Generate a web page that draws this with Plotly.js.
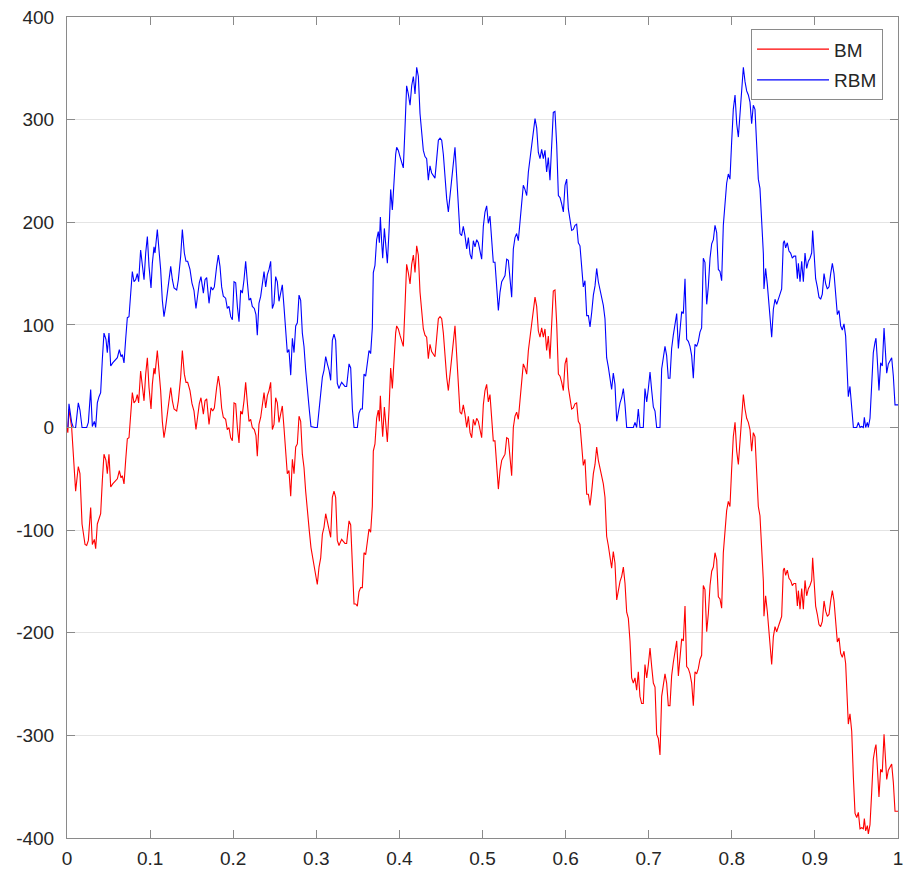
<!DOCTYPE html>
<html>
<head>
<meta charset="utf-8">
<script src="https://cdn.plot.ly/plotly-3.0.1.min.js"></script>
<style>html,body{margin:0;padding:0;background:#fff;}#chart{width:903px;height:874px;}</style>
</head>
<body>
<div id="chart"></div>
<script>
// time grid
const t = [
0,0.001,0.0024,0.0056,0.0076,0.0104,0.0136,0.0156,0.0181,0.0217,
0.0237,0.0257,0.0285,0.0305,0.0329,0.0345,0.0365,0.0385,0.0405,0.0425,
0.0445,0.0469,0.0485,0.0505,0.0526,0.0550,0.0578,0.0606,0.0630,0.0650,
0.0666,0.0686,0.0706,0.0726,0.0746,0.0770,0.0786,0.0806,0.0826,0.0846,
0.0862,0.0886,0.0907,0.0927,0.0947,0.0967,0.0987,0.1011,0.1027,0.1047,
0.1059,0.1071,0.1087,0.1107,0.1127,0.1147,0.1167,0.1187,0.1207,0.1231,
0.1248,0.1268,0.1288,0.1320,0.1340,0.1368,0.1388,0.1412,0.1432,0.1452,
0.1480,0.1504,0.1528,0.1552,0.1572,0.1592,0.1612,0.1641,0.1661,0.1681,
0.1709,0.1733,0.1753,0.1773,0.1801,0.1821,0.1841,0.1861,0.1881,0.1909,
0.1929,0.1949,0.1970,0.1990,0.2010,0.2030,0.2050,0.2070,0.2090,0.2110,
0.2130,0.2150,0.2170,0.2190,0.2210,0.2230,0.2254,0.2274,0.2290,0.2310,
0.2331,0.2351,0.2371,0.2391,0.2411,0.2431,0.2451,0.2471,0.2491,0.2511,
0.2531,0.2551,0.2571,0.2591,0.2611,0.2631,0.2651,0.2671,0.2692,0.2712,
0.2732,0.2752,0.2772,0.2792,0.2812,0.2832,0.2852,0.2872,0.2892,0.2916,
0.2936,0.2964,0.2984,0.3012,0.3033,0.3053,0.3073,0.3093,0.3113,0.3133,
0.3153,0.3173,0.3193,0.3213,0.3233,0.3253,0.3273,0.3293,0.3305,0.3325,
0.3345,0.3365,0.3394,0.3414,0.3434,0.3454,0.3474,0.3494,0.3514,0.3534,
0.3554,0.3574,0.3594,0.3614,0.3634,0.3654,0.3674,0.3686,0.3706,0.3726,
0.3746,0.3759,0.3771,0.3787,0.3799,0.3819,0.3835,0.3855,0.3875,0.3895,
0.3915,0.3935,0.3955,0.3967,0.3987,0.4007,0.4027,0.4047,0.4067,0.4087,
0.4107,0.4128,0.4148,0.4168,0.4188,0.4208,0.4228,0.4248,0.4268,0.4288,
0.4308,0.4328,0.4348,0.4368,0.4388,0.4408,0.4428,0.4449,0.4469,0.4489,
0.4509,0.4529,0.4549,0.4569,0.4589,0.4609,0.4629,0.4649,0.4669,0.4689,
0.4709,0.4729,0.4749,0.4769,0.4789,0.4810,0.4830,0.4850,0.4870,0.4890,
0.4910,0.4930,0.4950,0.4970,0.4990,0.5010,0.5030,0.5050,0.5070,0.5090,
0.5110,0.5130,0.5150,0.5171,0.5191,0.5211,0.5231,0.5251,0.5271,0.5291,
0.5311,0.5331,0.5351,0.5371,0.5391,0.5411,0.5431,0.5451,0.5471,0.5491,
0.5511,0.5532,0.5552,0.5572,0.5592,0.5612,0.5632,0.5652,0.5672,0.5692,
0.5712,0.5732,0.5752,0.5772,0.5792,0.5812,0.5832,0.5852,0.5872,0.5893,
0.5913,0.5933,0.5953,0.5973,0.5993,0.6013,0.6033,0.6053,0.6073,0.6093,
0.6113,0.6133,0.6153,0.6173,0.6193,0.6213,0.6233,0.6254,0.6274,0.6294,
0.6314,0.6334,0.6354,0.6374,0.6394,0.6414,0.6434,0.6454,0.6474,0.6494,
0.6514,0.6534,0.6554,0.6574,0.6594,0.6615,0.6635,0.6655,0.6675,0.6695,
0.6715,0.6735,0.6755,0.6775,0.6795,0.6815,0.6835,0.6855,0.6875,0.6895,
0.6915,0.6935,0.6955,0.6976,0.6996,0.7016,0.7036,0.7056,0.7076,0.7096,
0.7116,0.7136,0.7156,0.7176,0.7196,0.7216,0.7236,0.7256,0.7276,0.7296,
0.7316,0.7337,0.7357,0.7377,0.7397,0.7417,0.7437,0.7457,0.7477,0.7497,
0.7517,0.7537,0.7557,0.7577,0.7597,0.7617,0.7637,0.7657,0.7677,0.7698,
0.7718,0.7738,0.7758,0.7778,0.7798,0.7818,0.7838,0.7858,0.7878,0.7898,
0.7918,0.7938,0.7958,0.7978,0.7998,0.8018,0.8039,0.8059,0.8079,0.8099,
0.8119,0.8139,0.8159,0.8179,0.8199,0.8219,0.8239,0.8259,0.8279,0.8299,
0.8319,0.8339,0.8359,0.8380,0.8387,0.8407,0.8428,0.8448,0.8468,0.8480,
0.8500,0.8520,0.8540,0.8560,0.8580,0.8600,0.8620,0.8632,0.8648,0.8668,
0.8688,0.8708,0.8728,0.8748,0.8769,0.8789,0.8801,0.8821,0.8841,0.8861,
0.8881,0.8901,0.8921,0.8941,0.8961,0.8973,0.8989,0.9009,0.9029,0.9049,
0.9069,0.9089,0.9110,0.9130,0.9150,0.9170,0.9190,0.9210,0.9230,0.9250,
0.9270,0.9290,0.9310,0.9330,0.9350,0.9370,0.9382,0.9402,0.9422,0.9443,
0.9463,0.9483,0.9503,0.9523,0.9543,0.9563,0.9583,0.9595,0.9611,0.9631,
0.9643,0.9663,0.9683,0.9703,0.9723,0.9735,0.9751,0.9771,0.9791,0.9811,
0.9832,0.9852,0.9864,0.9884,0.9904,0.9924,0.9944,0.9964,0.9984,1
];

// Brownian motion (red)
const bm = [
0,-5,18,0,-26,-62,-38,-45,-94,-114,
-115,-110,-78,-114,-109,-118,-94,-88,-84,-52,
-26,-32,-45,-26,-58,-55,-52,-50,-42,-49,
-47,-55,-32,-11,-10,13,34,24,26,32,
24,55,39,26,52,68,39,18,42,58,
52,65,75,55,36,6,-10,0,13,23,
39,26,18,16,26,49,75,52,44,44,
36,23,16,-2,13,23,29,13,26,28,
3,19,16,19,39,50,39,19,10,8,
-2,0,-10,-13,24,23,0,-15,16,13,
26,44,24,6,8,0,-2,-8,-28,3,
10,24,34,19,31,36,44,-2,3,29,
24,5,13,21,0,-19,-45,-42,-67,-31,
-45,-19,-16,11,6,-26,-39,-62,-84,-101,
-117,-130,-136,-153,-136,-127,-104,-97,-84,-91,
-97,-107,-68,-62,-68,-110,-115,-111,-109,-111,
-113,-113,-91,-95,-135,-172,-172,-174,-160,-156,
-156,-122,-124,-109,-99,-102,-77,-23,-16,9,
17,6,31,6,-9,20,2,-14,17,58,
38,67,92,99,96,90,85,79,117,159,
151,140,159,168,151,177,168,132,114,96,
90,88,67,81,74,71,69,88,106,108,
106,92,67,49,36,52,67,88,99,71,
38,15,13,22,13,0,11,-5,-10,8,
2,9,6,-1,-10,22,36,42,25,32,
10,-13,-13,-36,-60,-42,-32,-29,-26,-10,
-11,-29,-47,0,11,15,8,26,42,62,
58,52,75,88,101,114,127,118,94,88,
97,88,96,75,89,67,94,133,134,101,
52,50,44,36,62,68,39,26,18,19,
23,24,6,3,-16,-37,-31,-65,-65,-76,
-62,-45,-36,-19,-32,-39,-49,-55,-68,-106,
-115,-125,-137,-121,-132,-168,-158,-150,-145,-136,
-152,-180,-186,-208,-244,-249,-244,-256,-238,-262,
-269,-269,-231,-244,-231,-215,-233,-249,-253,-299,
-303,-319,-262,-249,-240,-249,-271,-271,-242,-229,
-219,-208,-242,-226,-206,-208,-174,-233,-235,-240,
-249,-271,-238,-240,-235,-226,-222,-154,-158,-199,
-181,-154,-140,-136,-122,-129,-165,-167,-176,-122,
-100,-81,-72,-77,-41,-9,5,-23,-36,-14,
9,32,18,9,5,-2,-23,-5,-9,-50,
-77,-86,-124,-150,-184,-164,-180,-203,-219,-231,
-204,-194,-199,-193,-189,-184,-139,-137,-144,-139,
-147,-149,-154,-152,-152,-174,-159,-177,-157,-177,
-149,-164,-157,-154,-149,-127,-149,-174,-182,-192,
-194,-189,-169,-179,-184,-182,-169,-159,-169,-194,
-209,-205,-220,-224,-218,-230,-258,-289,-279,-296,
-341,-376,-380,-375,-391,-390,-391,-381,-393,-388,
-396,-387,-356,-323,-313,-309,-330,-360,-333,-336,
-299,-330,-343,-334,-331,-328,-346,-374,-374,-374
];

// Reflected Brownian motion (blue)
const rbm = [
0,0,23,5,0,0,24,17,0,0,
0,5,37,1,6,0,24,30,34,66,
92,86,73,92,60,63,66,68,76,69,
71,63,86,107,108,131,152,142,144,150,
142,173,157,144,170,186,157,136,160,176,
170,183,193,173,154,124,108,118,131,141,
157,144,136,134,144,167,193,170,162,162,
154,141,134,116,131,141,147,131,144,146,
121,137,134,137,157,168,157,137,128,126,
116,118,108,105,142,141,118,103,134,131,
144,162,142,124,126,118,116,110,90,121,
128,142,152,137,149,154,162,116,121,147,
142,123,131,139,118,99,73,76,51,87,
73,99,102,129,124,92,79,56,34,17,
1,0,0,0,17,26,49,56,69,62,
56,46,85,91,85,43,38,42,44,42,
40,40,62,58,18,0,0,0,14,18,
18,52,50,65,75,72,97,151,158,183,
191,180,205,180,165,194,176,160,191,232,
212,241,266,273,270,264,259,253,291,333,
325,314,333,342,325,351,342,306,288,270,
264,262,241,255,248,245,243,262,280,282,
280,266,241,223,210,226,241,262,273,245,
212,189,187,196,187,174,185,169,164,182,
176,183,180,173,164,196,210,216,199,206,
184,161,161,138,114,132,142,145,148,164,
163,145,127,174,185,189,182,200,216,236,
232,226,249,262,275,288,301,292,268,262,
271,262,270,249,263,241,268,307,308,275,
226,224,218,210,236,242,213,200,192,193,
197,198,180,177,158,137,143,109,109,98,
112,129,138,155,142,135,125,119,106,68,
59,49,37,53,42,6,16,24,29,38,
22,0,0,0,0,0,5,0,18,0,
0,0,38,25,38,54,36,20,16,0,
0,0,57,70,79,70,48,48,77,90,
100,111,77,93,113,111,145,86,84,79,
70,48,81,79,84,93,97,165,161,120,
138,165,179,183,197,190,154,152,143,197,
219,238,247,242,278,310,324,296,283,305,
328,351,337,328,324,317,296,314,310,269,
242,233,195,169,135,155,139,116,100,88,
115,125,120,126,130,135,180,182,175,180,
172,170,165,167,167,145,160,142,162,142,
170,155,162,165,170,192,170,145,137,127,
125,130,150,140,135,137,150,160,150,125,
110,114,99,95,101,89,61,30,40,23,
0,0,0,5,0,1,0,10,0,5,
0,9,40,73,83,87,66,36,63,60,
97,66,53,62,65,68,50,22,22,22
];

const seriesNames = ['BM', 'RBM'];
const seriesColors = ['#ff0000', '#0000ff'];
const xTicks = [0,0.1,0.2,0.3,0.4,0.5,0.6,0.7,0.8,0.9,1];
const xTickText = ['0','0.1','0.2','0.3','0.4','0.5','0.6','0.7','0.8','0.9','1'];
const yTicks = [-400,-300,-200,-100,0,100,200,300,400];
const yTickText = ['-400','-300','-200','-100','0','100','200','300','400'];

const axisColor = '#8a8a8a';
const textColor = '#262626';

const traces = [bm, rbm].map((ys, i) => ({
  type: 'scatter', mode: 'lines', x: t, y: ys, name: seriesNames[i],
  legendgroup: seriesNames[i],
  line: {color: seriesColors[i], width: 1.1}
}));

const layout = {
  width: 903, height: 874,
  margin: {l: 67, r: 5, t: 17, b: 36, pad: 0},
  paper_bgcolor: '#ffffff', plot_bgcolor: '#ffffff',
  font: {family: '"Liberation Sans", Arial, Helvetica, sans-serif', size: 19, color: textColor},
  showlegend: true,
  xaxis: {
    range: [0, 1], tickmode: 'array', tickvals: xTicks, ticktext: xTickText,
    ticks: 'inside', ticklen: 8, tickcolor: axisColor, tickwidth: 1,
    showline: true, linecolor: axisColor, linewidth: 1, mirror: 'ticks',
    showgrid: false, zeroline: false, tickfont: {size: 19, color: textColor},
    ticklabelstandoff: 3, ticklabeloverflow: 'allow'
  },
  yaxis: {
    range: [-400, 400], tickmode: 'array', tickvals: yTicks, ticktext: yTickText,
    ticks: 'inside', ticklen: 8, tickcolor: axisColor, tickwidth: 1,
    showline: true, linecolor: axisColor, linewidth: 1, mirror: 'ticks',
    showgrid: true, gridcolor: '#e4e4e4', gridwidth: 1, zeroline: false,
    tickfont: {size: 19, color: textColor}, ticklabelstandoff: 8,
    ticklabeloverflow: 'allow'
  },
  legend: {
    x: 0.982, xanchor: 'right', y: 0.985, yanchor: 'top',
    bgcolor: '#ffffff', bordercolor: '#8a8a8a', borderwidth: 1,
    font: {size: 19, color: textColor}, itemwidth: 72, traceorder: 'grouped',
    tracegroupgap: 3
  }
};

Plotly.newPlot('chart', traces, layout, {displayModeBar: false, staticPlot: true});
</script>
</body>
</html>
